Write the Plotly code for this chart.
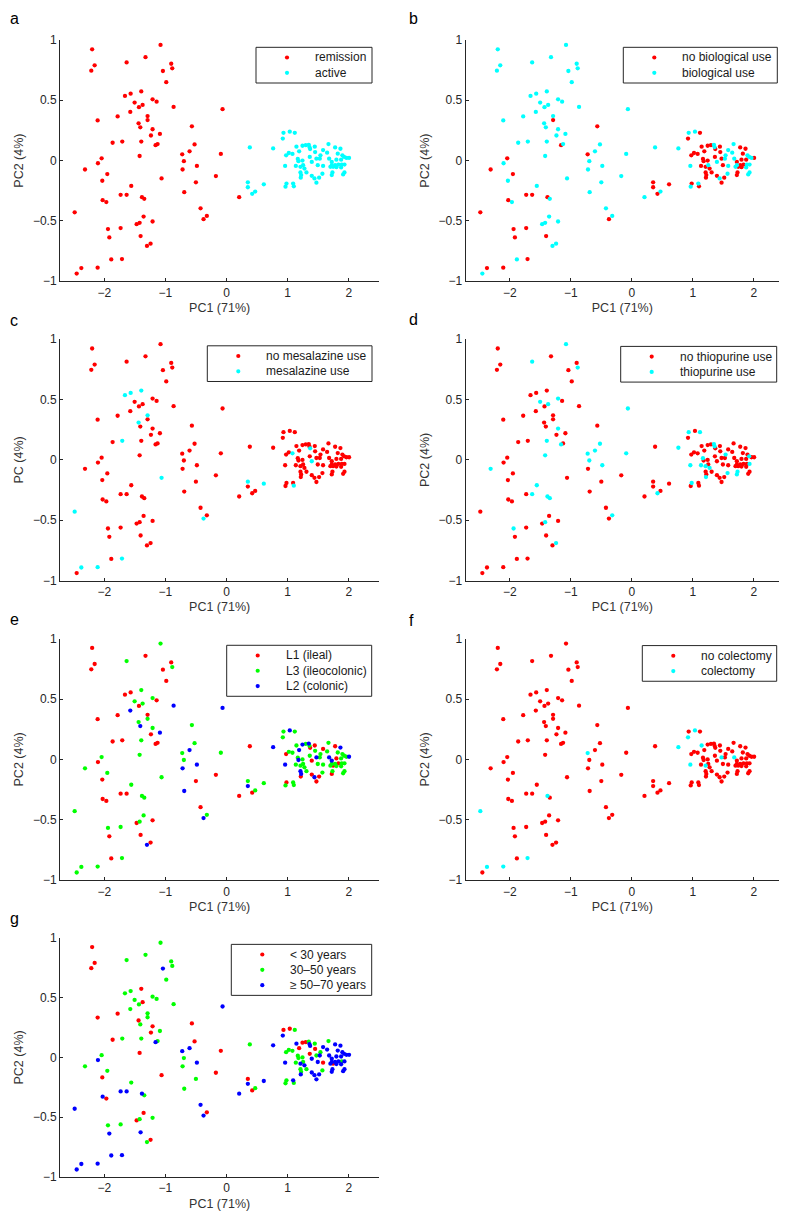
import plotly.graph_objects as go

# PCA scores, same samples in every panel.
# ids 1-80: left / bridge cloud, ids 81-158: right cloud
pc1 = [
    -2.199, -1.080, -1.326, -1.635, -2.158, -0.905, -2.213, -1.041, -0.888, -0.986,
    -1.395, -1.662, -1.569, -1.210, -1.144, -1.504, -1.373, -1.433, -0.866, -1.575,
    -0.065, -2.109, -1.782, -1.292, -1.292, -1.439, -1.411, -0.567, -1.210, -1.090,
    -1.237, -1.864, -1.706, -1.395, -1.128, -1.161, -0.523, -0.725, -0.605, -0.093,
    -1.422, -2.044, -2.104, -0.698, -2.316, -0.719, -0.485, -1.951, -0.174, -1.063,
    -2.033, -0.501, -1.559, -1.733, -1.635, -0.692, -1.384, -1.346, -2.027, -1.967,
    0.207, -2.485, -0.425, -0.322, -0.376, -1.357, -1.210, -1.422, -1.471, -1.940,
    -1.733, -1.918, -1.406, -1.243, -1.302, -1.886, -1.711, -2.109, -2.376, -2.452,
    0.381, 0.349, 0.349, 0.610, 0.469, 0.420, 0.932, 1.035, 1.117, 0.921,
    0.763, 1.144, 1.243, 1.297, 1.346, 1.357, 1.368, 1.444, 1.668, 1.777,
    1.864, 1.188, 1.019, 0.975, 1.079, 1.580, 1.646, 1.450, 1.537, 1.820,
    1.896, 1.962, 2.005, 1.924, 1.362, 1.166, 1.177, 1.243, 1.471, 1.526,
    1.679, 1.798, 1.875, 1.722, 0.959, 1.134, 1.210, 1.253, 1.275, 1.395,
    1.493, 1.580, 1.722, 1.777, 1.831, 1.886, 1.930, 1.700, 1.744, 1.798,
    1.875, 1.210, 1.308, 1.569, 1.733, 1.722, 1.930, 1.908, 1.221, 1.215,
    1.395, 1.439, 1.515, 1.471, 0.981, 0.965, 1.090, 1.101,
]
pc2 = [
    0.923, 0.959, 0.858, 0.814, 0.790, 0.803, 0.746, 0.743, 0.765, 0.650,
    0.574, 0.536, 0.555, 0.508, 0.489, 0.481, 0.462, 0.443, 0.445, 0.404,
    0.426, 0.333, 0.366, 0.369, 0.336, 0.309, 0.276, 0.284, 0.260, 0.221,
    0.208, 0.148, 0.158, 0.158, 0.137, 0.128, 0.134, 0.052, 0.077, 0.055,
    0.038, 0.019, -0.022, -0.005, -0.074, -0.074, -0.044, -0.112, -0.128, -0.148,
    -0.167, -0.180, -0.210, -0.284, -0.284, -0.262, -0.303, -0.317, -0.328, -0.344,
    -0.303, -0.429, -0.396, -0.459, -0.486, -0.464, -0.505, -0.516, -0.527, -0.568,
    -0.560, -0.637, -0.626, -0.689, -0.708, -0.820, -0.817, -0.888, -0.891, -0.937,
    0.109, -0.180, -0.221, -0.197, -0.257, -0.276, 0.230, 0.240, 0.230, 0.183,
    0.101, 0.115, 0.123, 0.128, 0.131, 0.112, 0.096, 0.115, 0.137, 0.109,
    0.098, 0.077, 0.063, 0.044, 0.055, 0.087, 0.066, 0.071, 0.044, 0.057,
    0.044, 0.022, 0.022, 0.030, 0.030, 0.014, -0.005, 0.000, 0.016, 0.016,
    0.016, 0.008, 0.008, -0.011, -0.044, -0.044, -0.052, -0.038, -0.066, -0.011,
    -0.038, -0.044, -0.038, -0.038, -0.033, -0.033, -0.033, -0.052, -0.052, -0.055,
    -0.057, -0.098, -0.098, -0.109, -0.098, -0.120, -0.098, -0.115, -0.120, -0.142,
    -0.126, -0.148, -0.142, -0.183, -0.191, -0.216, -0.191, -0.213,
]
n_points = len(pc1)

# group membership (sample ids, 1-based); a group given as None takes the rest
active_ids = list(range(81, 159))
no_biological_ids = [25, 28, 36, 38, 42, 45, 48, 54, 55, 57, 59, 62, 65, 70, 71, 72, 73, 77, 78, 79,
                     82, 83, 84, 86, 89, 90, 92, 93, 94, 97, 98, 100, 101, 102, 103, 104, 105, 108,
                     110, 113, 115, 116, 117, 118, 119, 122, 123, 124, 126, 127, 129, 131, 134, 135,
                     139, 140, 142, 143, 145, 146, 149, 150, 151, 153, 154, 155, 158]
mesalazine_ids = [11, 12, 13, 24, 26, 33, 50, 62, 65, 77, 78, 79, 82, 84, 97, 105, 130, 158]
thiopurine_ids = [2, 4, 9, 14, 16, 17, 21, 29, 34, 36, 37, 38, 39, 40, 41, 44, 45, 47, 53, 55, 57, 58,
                  64, 68, 70, 74, 86, 87, 89, 91, 95, 96, 109, 114, 116, 125, 126, 127, 129, 137,
                  144, 145, 146, 150, 155]
l1_ids = [1, 3, 5, 6, 7, 8, 10, 12, 13, 15, 18, 22, 23, 24, 31, 32, 33, 35, 36, 43, 49, 51, 52, 54,
          55, 59, 60, 61, 63, 67, 69, 72, 73, 74, 76, 81, 86, 104, 155, 97, 98, 130, 106, 100, 122,
          146, 135, 139, 151, 150, 154, 153]
l2_ids = [19, 20, 21, 27, 30, 39, 46, 47, 56, 65, 75, 83, 88, 91, 125, 93, 102, 117, 142, 149, 152,
          95, 119, 121, 101, 113, 124]
colectomy_ids = [38, 57, 62, 77, 78, 79, 88, 90, 91, 92, 119, 121, 125, 127]
age_lt30_ids = [1, 5, 7, 11, 17, 22, 23, 26, 28, 29, 31, 32, 37, 40, 41, 49, 50, 51, 60, 64, 66, 69,
                74, 82, 86, 87, 88, 93, 94, 102, 108, 115, 132, 139]
age_30_50_ids = [2, 3, 4, 6, 9, 10, 12, 13, 14, 15, 16, 18, 19, 20, 24, 25, 27, 30, 33, 34, 35, 42,
                 44, 45, 46, 48, 52, 53, 56, 58, 67, 68, 70, 71, 75, 81, 85, 89, 95, 103, 104, 105,
                 116, 117, 118, 126, 142, 149, 155, 156, 158, 98, 109, 99, 119, 128, 143, 144, 136]

RED, CYAN, GREEN, BLUE = "#ff0000", "#00ffff", "#00ff00", "#0000ff"

panels = [
    dict(tag="a", ylab="PC2 (4%)", groups=[("remission", RED, None), ("active", CYAN, active_ids)]),
    dict(tag="b", ylab="PC2 (4%)", groups=[("no biological use", RED, no_biological_ids),
                                           ("biological use", CYAN, None)]),
    dict(tag="c", ylab="PC (4%)", groups=[("no mesalazine use", RED, None),
                                          ("mesalazine use", CYAN, mesalazine_ids)]),
    dict(tag="d", ylab="PC2 (4%)", groups=[("no thiopurine use", RED, None),
                                           ("thiopurine use", CYAN, thiopurine_ids)]),
    dict(tag="e", ylab="PC2 (4%)", groups=[("L1 (ileal)", RED, l1_ids), ("L3 (ileocolonic)", GREEN, None),
                                           ("L2 (colonic)", BLUE, l2_ids)]),
    dict(tag="f", ylab="PC2 (4%)", groups=[("no colectomy", RED, None), ("colectomy", CYAN, colectomy_ids)]),
    dict(tag="g", ylab="PC2 (4%)", groups=[("< 30 years", RED, age_lt30_ids), ("30\u201350 years", GREEN, age_30_50_ids),
                                           ("\u2265 50\u201370 years", BLUE, None)]),
]

# page geometry in screen pixels; the page body keeps its default 8px margin,
# so the figure itself is 16px smaller and everything is shifted by 8px
PAGE_W, PAGE_H, BODY_MARGIN = 787, 1220, 8
W, H = PAGE_W - 2 * BODY_MARGIN, PAGE_H - 2 * BODY_MARGIN
X_RANGE = (-2.725, 2.5)
cols = [(60, 379.3), (465.7, 784.3)]
rows = [(33.3, 277.3), (336, 580.3), (639, 883.3), (941.7, 1183.7)]
legend_boxes = {"a": (256, 40.7, 116), "b": (623.3, 40.7, 154), "c": (207.3, 342.7, 164.7),
                "d": (620.7, 343.3, 156), "e": (226.7, 645.7, 145), "f": (642.3, 646, 134.4),
                "g": (231.3, 948.3, 140.4)}
tag_pos = {"a": (8, 11.5), "b": (407, 11.5), "c": (8, 317.5), "d": (407, 316.5),
           "e": (8, 619.5), "f": (407, 621), "g": (8, 922)}

FONT = "Liberation Sans, Arial, Helvetica, sans-serif"
INK = "#262626"


def px(x):
    return min(max((x - BODY_MARGIN) / W, 0), 1)


def py(y):
    return min(max(1 - (y - BODY_MARGIN) / H, 0), 1)


fig = go.Figure()
shapes, annotations = [], []

for k, p in enumerate(panels):
    n = k + 1
    xa, ya = ("x", "y") if n == 1 else ("x%d" % n, "y%d" % n)
    c0, c1 = cols[k % 2]
    r0, r1 = rows[k // 2]
    # the right column runs past the figure edge: cut the axis where the figure ends
    c1_cut = min(c1, PAGE_W - BODY_MARGIN)
    x_hi = X_RANGE[0] + (c1_cut - c0) / (c1 - c0) * (X_RANGE[1] - X_RANGE[0])

    assigned = set()
    for _, _, ids in p["groups"]:
        if ids:
            assigned.update(ids)
    for name, color, ids in p["groups"]:
        members = ids if ids is not None else [i for i in range(1, n_points + 1) if i not in assigned]
        fig.add_trace(go.Scatter(
            x=[pc1[i - 1] for i in members], y=[pc2[i - 1] for i in members],
            mode="markers", name=name, showlegend=False,
            marker=dict(color=color, size=4.3, line=dict(width=0)),
            xaxis=xa, yaxis=ya))

    axis_common = dict(showline=True, linecolor=INK, linewidth=1, ticks="inside", ticklen=3,
                       tickcolor=INK, showgrid=False, zeroline=False, mirror=False,
                       tickfont=dict(family=FONT, size=12, color=INK),
                       title_font=dict(family=FONT, size=12.5, color="#333333"))
    fig.layout["xaxis%s" % ("" if n == 1 else n)] = dict(
        axis_common, domain=[px(c0), px(c1_cut)], anchor=ya, range=[X_RANGE[0], x_hi],
        tickvals=[-2, -1, 0, 1, 2], title=dict(text="PC1 (71%)", standoff=4))
    fig.layout["yaxis%s" % ("" if n == 1 else n)] = dict(
        axis_common, domain=[py(r1), py(r0)], anchor=xa, range=[-1, 1],
        tickvals=[-1, -0.5, 0, 0.5, 1], title=dict(text=p["ylab"], standoff=6))

    # legend box
    bx, by, bw = legend_boxes[p["tag"]]
    ng = len(p["groups"])
    bh = 20.6 + 15.5 * (ng - 1)
    shapes.append(dict(type="rect", xref="paper", yref="paper", x0=px(bx), x1=px(bx + bw),
                       y0=py(by + bh), y1=py(by), line=dict(color=INK, width=1), fillcolor="white"))
    for j, (name, color, _) in enumerate(p["groups"]):
        yy = by + 10.3 + 15.5 * j
        shapes.append(dict(type="circle", xref="paper", yref="paper",
                           x0=px(bx + 31 - 2.1), x1=px(bx + 31 + 2.1),
                           y0=py(yy + 2.1), y1=py(yy - 2.1),
                           fillcolor=color, line=dict(width=0)))
        annotations.append(dict(text=name, xref="paper", yref="paper", x=px(bx + 57), y=py(yy),
                                xanchor="left", yanchor="middle", showarrow=False,
                                font=dict(family=FONT, size=12, color="#1a1a1a")))

    tx, ty = tag_pos[p["tag"]]
    annotations.append(dict(text=p["tag"], xref="paper", yref="paper", x=px(tx), y=py(ty),
                            xanchor="left", yanchor="middle", showarrow=False,
                            font=dict(family=FONT, size=16, color="black")))

fig.update_layout(width=W, height=H, margin=dict(l=0, r=0, t=0, b=0),
                  paper_bgcolor="white", plot_bgcolor="white",
                  shapes=shapes, annotations=annotations, showlegend=False)

fig.write_html("out.html", config={"displayModeBar": False})
